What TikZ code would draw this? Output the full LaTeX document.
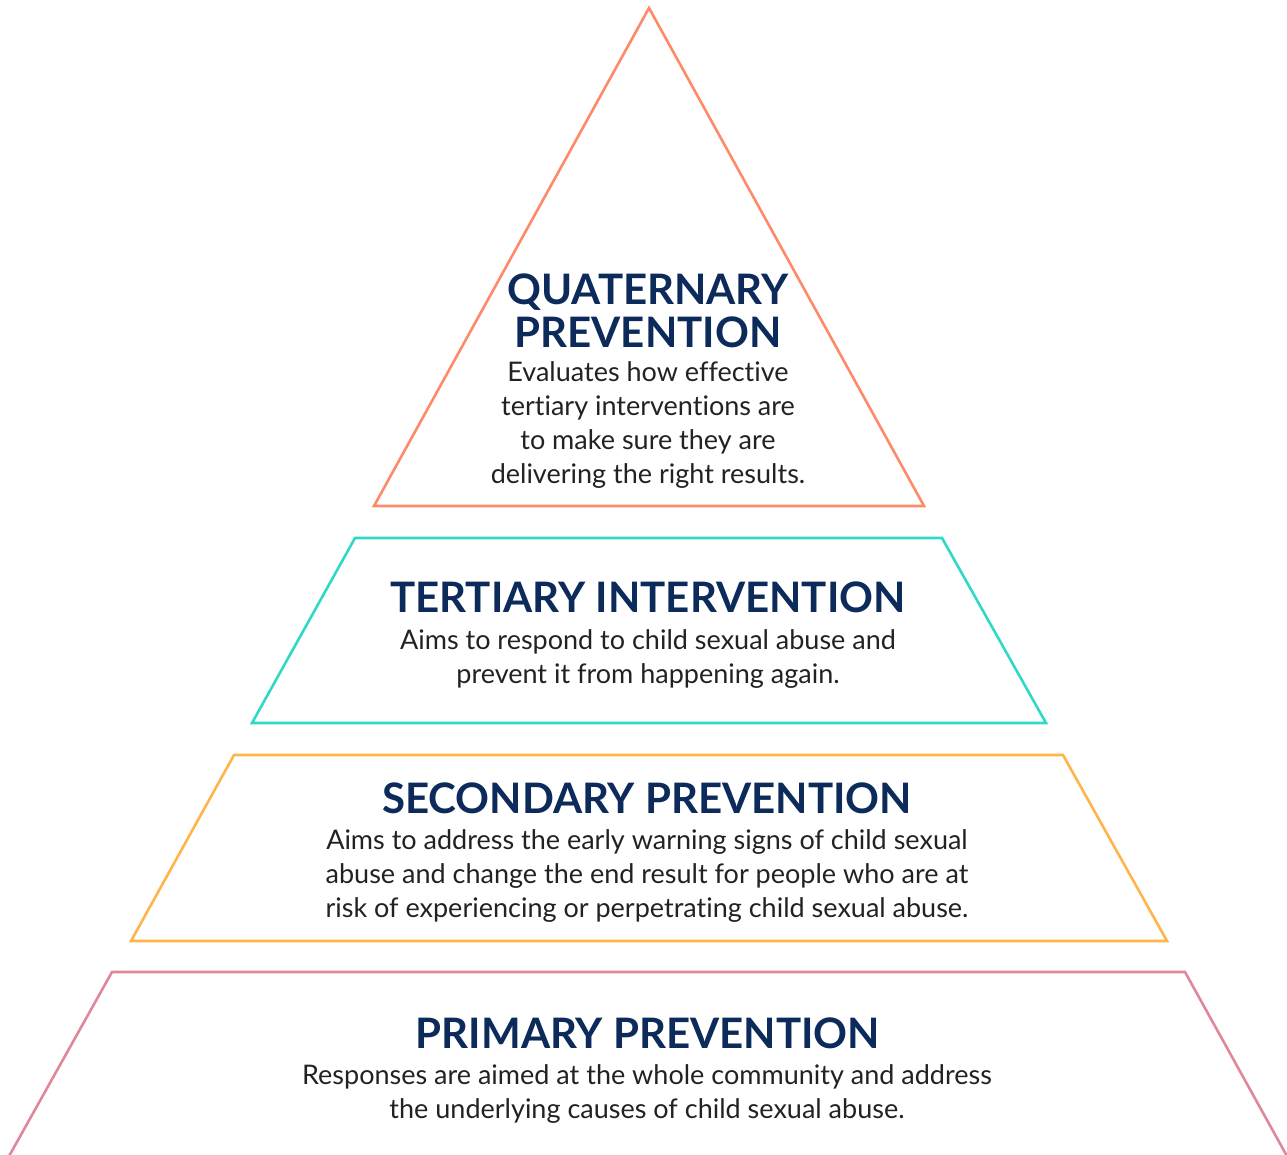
\documentclass[tikz,border=0pt]{standalone}
\usepackage{fontspec}
\setmainfont{Lato}[Ligatures=NoCommon]
\definecolor{navy}{HTML}{0C2A5A}
\definecolor{bodytxt}{HTML}{222222}
\definecolor{cquat}{HTML}{FF8A6A}
\definecolor{cter}{HTML}{2FD9C6}
\definecolor{csec}{HTML}{FFB54A}
\definecolor{cprim}{HTML}{E08799}
\begin{document}
\begin{tikzpicture}[x=1pt,y=-1pt,
  band/.style={line width=2.6pt,line join=miter},
  head/.style={font=\fontsize{42}{43}\selectfont\bfseries,text=navy,align=center,inner sep=0pt},
  body/.style={font=\fontsize{27}{34}\selectfont,text=bodytxt,align=center,inner sep=0pt}]
\useasboundingbox (0,0) rectangle (1287,1155);
\begin{scope}
\clip (0,0) rectangle (1287,1155);
\draw[band,cquat] (649,8) -- (924,506) -- (374,506) -- cycle;
\draw[band,cter] (355,538) -- (942,538) -- (1046,723) -- (252,723) -- cycle;
\draw[band,csec] (234,755) -- (1063,755) -- (1167,941) -- (131,941) -- cycle;
\draw[band,cprim] (8,1158) -- (112,972) -- (1185,972) -- (1288,1158);
\end{scope}
\node[head] (qh) at (648,311) {QUATERNARY\\PREVENTION};
\node[body] (qb) at (648,425) {Evaluates how effective\\tertiary interventions are\\to make sure they are\\delivering the right results.};
\node[head] (th) at (648,597) {TERTIARY INTERVENTION};
\node[body] (tb) at (648,659) {Aims to respond to child sexual abuse and\\prevent it from happening again.};
\node[head] (sh) at (647,798) {SECONDARY PREVENTION};
\node[body] (sb) at (647,876) {Aims to address the early warning signs of child sexual\\abuse and change the end result for people who are at\\risk of experiencing or perpetrating child sexual abuse.};
\node[head] (ph) at (648,1033) {PRIMARY PREVENTION};
\node[body] (pb) at (647,1094) {Responses are aimed at the whole community and address\\the underlying causes of child sexual abuse.};
\end{tikzpicture}
\end{document}
